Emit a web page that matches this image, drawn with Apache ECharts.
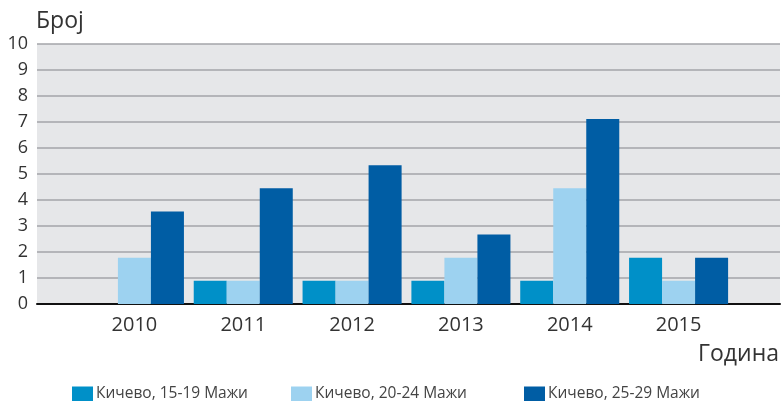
<!DOCTYPE html>
<html>
<head>
<meta charset="utf-8">
<script src="https://cdn.jsdelivr.net/npm/echarts@6/dist/echarts.min.js"></script>
<style>
  html, body { margin: 0; padding: 0; background: #fff; }
  #chart { width: 782px; height: 401px; }
</style>
</head>
<body>
<div id="chart"></div>
<script>
var years = ['2010', '2011', '2012', '2013', '2014', '2015'];
var men1519 = [0, 0.89, 0.89, 0.89, 0.89, 1.78];
var men2024 = [1.78, 0.89, 0.89, 1.78, 4.45, 0.89];
var men2529 = [3.56, 4.45, 5.34, 2.67, 7.12, 1.78];
var seriesNames = ['Кичево, 15-19 Мажи', 'Кичево, 20-24 Мажи', 'Кичево, 25-29 Мажи'];
var colors = ['#0090c8', '#9dd2f0', '#005da4'];

var fontName = 'Open Sans';
var chart = echarts.init(document.getElementById('chart'));

// one legend per item so each sits where the original puts it
var legendLefts = [72, 291, 524];
var legends = [];
for (var i = 0; i < seriesNames.length; i++) {
    legends.push({
        data: [seriesNames[i]],
        left: legendLefts[i],
        top: 386,
        padding: 0,
        itemWidth: 21,
        itemHeight: 15,
        icon: 'rect',
        textStyle: { fontSize: 15.5, color: '#444', fontFamily: fontName, padding: [0, 0, 0, -2] }
    });
}

var option = {
    animation: false,
    color: colors,
    textStyle: { fontFamily: fontName },
    grid: [
        // background grid: gridlines and y labels across the full width
        { left: 37, right: 2, top: 44, bottom: 97, show: true, backgroundColor: '#e6e7e9', borderWidth: 0 },
        // bar grid: categories sit inside this narrower area
        { left: 80, width: 653, top: 44, bottom: 97 }
    ],
    legend: legends,
    xAxis: [
        {
            gridIndex: 0, type: 'value', min: 0, max: 1,
            axisLine: { show: true, onZero: false, lineStyle: { color: '#111', width: 2 } },
            axisTick: { show: false }, axisLabel: { show: false }, splitLine: { show: false }
        },
        {
            gridIndex: 1, type: 'category', data: years,
            axisLine: { show: false }, axisTick: { show: false },
            axisLabel: { fontSize: 20, color: '#333', margin: 11, fontFamily: fontName }
        }
    ],
    yAxis: [
        {
            gridIndex: 0, type: 'value', min: 0, max: 10, interval: 1,
            axisLine: { show: false }, axisTick: { show: false },
            axisLabel: { fontSize: 18, color: '#333', margin: 9, fontFamily: fontName },
            splitLine: { lineStyle: { color: '#a3a5a8', width: 1.5 } }
        },
        {
            gridIndex: 1, type: 'value', min: 0, max: 10,
            show: false
        }
    ],
    graphic: [
        { type: 'text', left: 36, top: 10, style: { text: 'Број', fontSize: 23, fill: '#333', fontFamily: fontName } },
        { type: 'text', right: 3, top: 343, style: { text: 'Година', fontSize: 23, fill: '#333', fontFamily: fontName } }
    ],
    series: [
        { name: seriesNames[0], type: 'bar', xAxisIndex: 1, yAxisIndex: 1, data: men1519, barGap: '0%', barCategoryGap: '9%' },
        { name: seriesNames[1], type: 'bar', xAxisIndex: 1, yAxisIndex: 1, data: men2024, barGap: '0%', barCategoryGap: '9%' },
        { name: seriesNames[2], type: 'bar', xAxisIndex: 1, yAxisIndex: 1, data: men2529, barGap: '0%', barCategoryGap: '9%' }
    ]
};

chart.setOption(option);
</script>
</body>
</html>
